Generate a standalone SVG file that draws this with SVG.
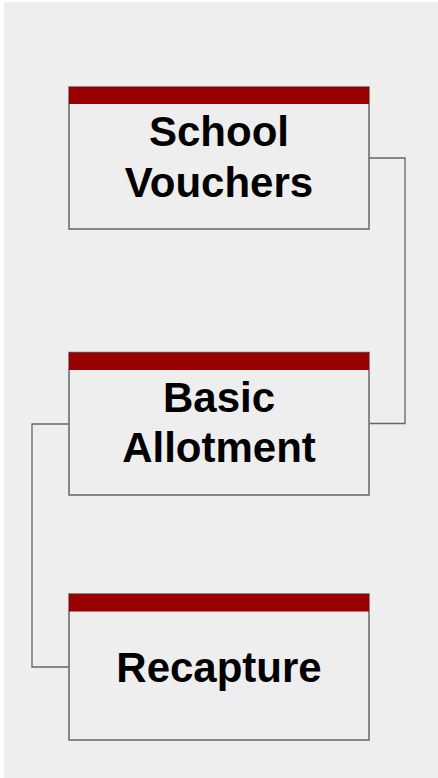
<svg xmlns="http://www.w3.org/2000/svg" width="438" height="778" viewBox="0 0 438 778">
<style>
.box{fill:#eeeeee;stroke:#666666;stroke-width:1.5}
.bar{fill:#990000}
.lbl{font-family:"Liberation Sans",Arial,sans-serif;font-weight:bold;font-size:42px;fill:#000;text-anchor:middle}
.conn{fill:none;stroke:#666666;stroke-width:1.3}
</style>
<rect x="0" y="0" width="438" height="778" fill="#ffffff"/>
<rect x="4" y="2" width="434" height="776" fill="#eeeeee"/>
<g id="connectors">
<polyline class="conn" points="369,158 405,158 405,423.5 370,423.5"/>
<polyline class="conn" points="69,424 32,424 32,667 69,667"/>
</g>
<g id="school-vouchers">
<rect class="box" x="69" y="87" width="300" height="142"/>
<rect class="bar" x="69" y="87" width="300" height="17"/>
<text class="lbl" x="219" y="145.5">School</text>
<text class="lbl" x="219" y="197">Vouchers</text>
</g>
<g id="basic-allotment">
<rect class="box" x="69" y="352.5" width="300" height="142.5"/>
<rect class="bar" x="69" y="352.5" width="300" height="17.5"/>
<text class="lbl" x="219" y="411.5">Basic</text>
<text class="lbl" x="219" y="461.5">Allotment</text>
</g>
<g id="recapture">
<rect class="box" x="69" y="594" width="300" height="146"/>
<rect class="bar" x="69" y="594" width="300" height="17.5"/>
<text class="lbl" x="219" y="682">Recapture</text>
</g>
</svg>
